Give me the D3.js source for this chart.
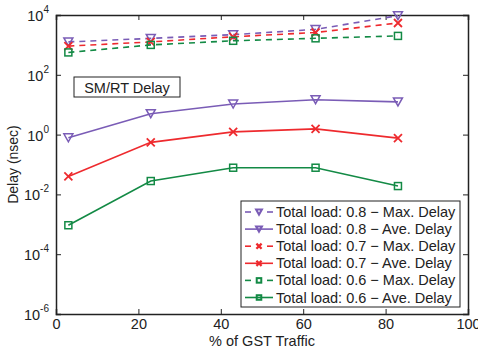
<!DOCTYPE html>
<html><head><meta charset="utf-8">
<script src="https://cdn.jsdelivr.net/npm/d3@7"></script>
<style>body{margin:0;background:#fff;} text{font-family:"Liberation Sans",Arial,sans-serif;}</style>
</head><body><svg id="c" width="478" height="349"></svg>
<script>
const xValues = [3, 23, 43, 63, 83];
const max08 = [1260, 1650, 2200, 3300, 9500];
const ave08 = [0.78, 5.0, 10.5, 14.7, 12.4];
const max07 = [910, 1260, 1870, 2600, 5400];
const ave07 = [0.04, 0.55, 1.23, 1.55, 0.76];
const max06 = [560, 1000, 1370, 1660, 2000];
const ave06 = [0.00093, 0.028, 0.078, 0.078, 0.019];
const xTicks = [0, 20, 40, 60, 80, 100];
const yTickExps = [-6, -4, -2, 0, 2, 4];
const seriesNames = ["Total load: 0.8 \u2212 Max. Delay","Total load: 0.8 \u2212 Ave. Delay","Total load: 0.7 \u2212 Max. Delay","Total load: 0.7 \u2212 Ave. Delay","Total load: 0.6 \u2212 Max. Delay","Total load: 0.6 \u2212 Ave. Delay"];
const seriesColors = ["#7a5cb6","#7a5cb6","#ee2a2e","#ee2a2e","#138a45","#138a45"];
const seriesMarkers = ["tri","tri","x","x","sq","sq"];
const seriesDashed = [true,false,true,false,true,false];
const seriesValues = [max08, ave08, max07, ave07, max06, ave06];

const svg = d3.select("#c");
const L=56, T=15, R=468, B=314;
const x = d3.scaleLinear().domain([0,100]).range([L,R]);
const y = d3.scaleLog().domain([1e-6,1e4]).range([B,T]);

function marker(g, type, cx, cy, color, s, sw){
  s = s || 1; sw = sw || 1.5;
  if(type==="tri"){
    g.append("path").attr("d",`M${cx-4.5*s},${cy-4*s}L${cx+4.5*s},${cy-4*s}L${cx},${cy+4*s}Z`).attr("fill","none").attr("stroke",color).attr("stroke-width",sw);
  } else if(type==="x"){
    g.append("path").attr("d",`M${cx-4*s},${cy-4*s}L${cx+4*s},${cy+4*s}M${cx-4*s},${cy+4*s}L${cx+4*s},${cy-4*s}`).attr("stroke",color).attr("stroke-width",sw+0.3);
  } else {
    g.append("rect").attr("x",cx-3.5*s).attr("y",cy-3.5*s).attr("width",7*s).attr("height",7*s).attr("fill","none").attr("stroke",color).attr("stroke-width",sw);
  }
}

const fs = 14.5;
const gx = svg.append("g").attr("transform",`translate(0,${B})`)
  .call(d3.axisBottom(x).tickValues(xTicks).tickSize(-5).tickPadding(5).tickFormat(d3.format("d")));
const gxt = svg.append("g").attr("transform",`translate(0,${T})`)
  .call(d3.axisTop(x).tickValues(xTicks).tickSize(-5).tickFormat(""));
const gy = svg.append("g").attr("transform",`translate(${L},0)`)
  .call(d3.axisLeft(y).tickValues(yTickExps.map(e=>Math.pow(10,e))).tickSize(-5).tickFormat(""));
const gyr = svg.append("g").attr("transform",`translate(${R},0)`)
  .call(d3.axisRight(y).tickValues(yTickExps.map(e=>Math.pow(10,e))).tickSize(-5).tickFormat(""));
[gx,gxt,gy,gyr].forEach(g=>{
  g.select(".domain").attr("stroke","#222").attr("stroke-width",1.5);
  g.selectAll(".tick line").attr("stroke","#222");
});
gx.selectAll(".tick text").attr("font-size",fs).attr("fill","#222").attr("font-family","Liberation Sans, Arial, sans-serif");

yTickExps.forEach(e=>{
  const t = svg.append("text").attr("x",L-7).attr("y",y(Math.pow(10,e))+6).attr("text-anchor","end").attr("font-size",fs).attr("fill","#222");
  t.append("tspan").text("10");
  t.append("tspan").attr("font-size",10).attr("dy",-8).text(e);
});

svg.append("text").attr("x",262).attr("y",346).attr("text-anchor","middle").attr("font-size",14.5).attr("fill","#222").text("% of GST Traffic");
svg.append("text").attr("transform",`translate(18,${(T+B)/2}) rotate(-90)`).attr("text-anchor","middle").attr("font-size",14).attr("fill","#222").text("Delay (nsec)");

const line = d3.line().x((d,i)=>x(xValues[i])).y(d=>y(d));
seriesValues.forEach((vals,k)=>{
  const g = svg.append("g");
  g.append("path").datum(vals).attr("d",line).attr("fill","none").attr("stroke",seriesColors[k]).attr("stroke-width",1.6)
    .attr("stroke-dasharray",seriesDashed[k]?"6,5":null);
  vals.forEach((v,i)=>marker(g,seriesMarkers[k],x(xValues[i]),y(v),seriesColors[k]));
});

svg.append("rect").attr("x",74).attr("y",77).attr("width",106).attr("height",20).attr("fill","#fff").attr("stroke","#222").attr("stroke-width",1);
svg.append("text").attr("x",127).attr("y",92.5).attr("text-anchor","middle").attr("font-size",14.5).attr("fill","#222").text("SM/RT Delay");

const lg = svg.append("g");
lg.append("rect").attr("x",241).attr("y",201).attr("width",219).attr("height",106).attr("fill","#fff").attr("stroke","#222").attr("stroke-width",1);
seriesNames.forEach((n,k)=>{
  const cy = 212 + k*17.1;
  if(seriesDashed[k]){
    lg.append("line").attr("x1",245).attr("x2",251).attr("y1",cy).attr("y2",cy).attr("stroke",seriesColors[k]).attr("stroke-width",1.6);
    lg.append("line").attr("x1",267).attr("x2",273).attr("y1",cy).attr("y2",cy).attr("stroke",seriesColors[k]).attr("stroke-width",1.6);
  } else {
    lg.append("line").attr("x1",245).attr("x2",273).attr("y1",cy).attr("y2",cy).attr("stroke",seriesColors[k]).attr("stroke-width",1.6);
  }
  marker(lg,seriesMarkers[k],259,cy,seriesColors[k],0.65,2);
  lg.append("text").attr("x",276).attr("y",cy+5).attr("font-size",14.5).attr("fill","#222").text(n);
});
</script></body></html>
